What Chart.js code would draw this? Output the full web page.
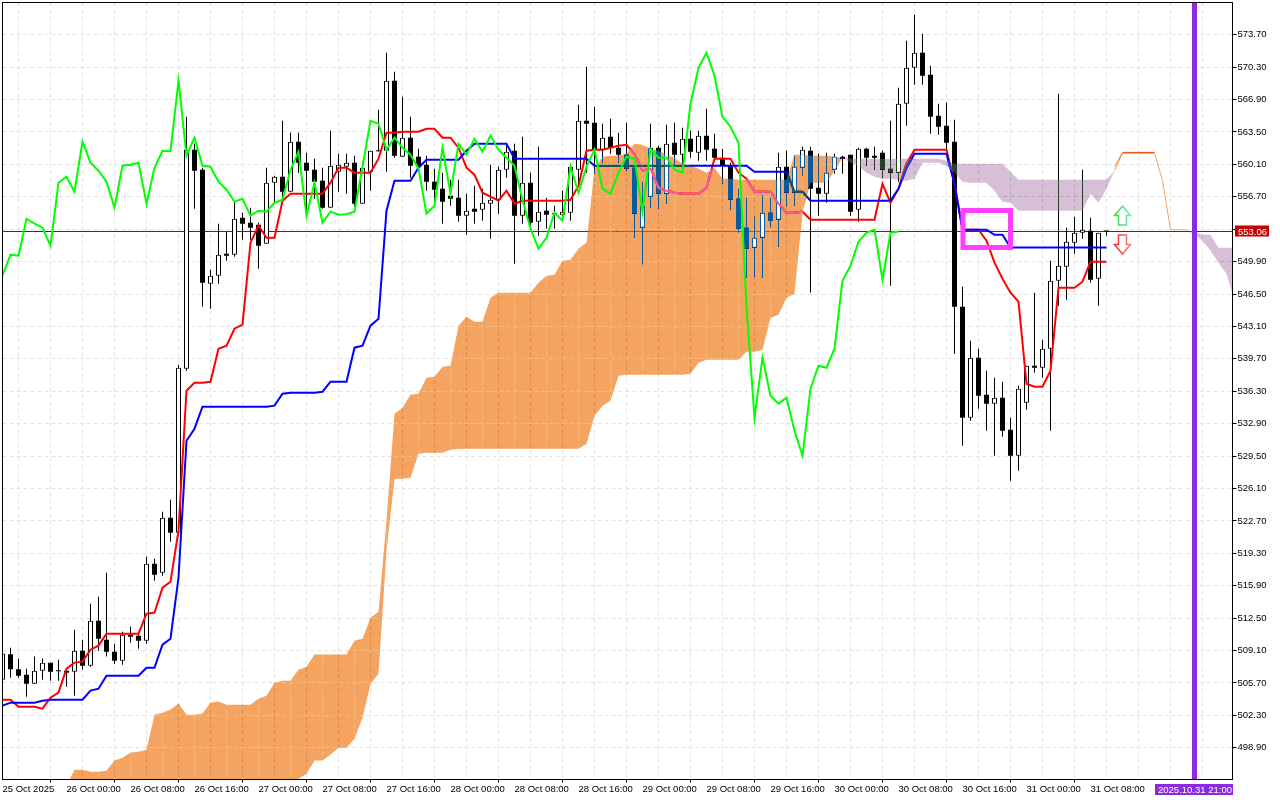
<!DOCTYPE html>
<html>
<head>
<meta charset="utf-8">
<style>html,body{margin:0;padding:0;background:#fff;overflow:hidden}canvas{display:block}</style>
<script src="https://cdn.jsdelivr.net/npm/chart.js@4/dist/chart.umd.js"></script>
</head>
<body>
<canvas id="c" width="1280" height="800" style="width:1280px;height:800px"></canvas>
<script>
const opens = [506.04,508.72,507.14,506.57,505.62,506.99,507.83,506.99,506.99,506.88,
509.08,507.51,512.23,510.24,508.98,508.04,510.76,510.66,510.13,518.21,
517.27,523.04,521.46,538.67,561.64,559.54,547.58,548.42,550.73,550.63,
554.51,553.98,553.77,551.78,558.18,558.81,557.23,562.48,560.28,559.54,
558.39,555.56,559.33,559.86,560.28,555.98,559.33,561.53,561.53,568.88,
560.91,562.90,560.91,560.07,558.28,557.55,556.81,556.60,554.72,555.45,
555.35,555.98,556.39,559.54,561.53,554.72,558.18,554.09,555.24,554.93,
554.82,555.03,559.54,564.68,564.47,561.64,563.00,561.85,561.12,559.75,
553.46,556.71,561.85,557.02,562.37,561.12,562.79,561.33,563.11,561.74,
560.80,559.96,556.50,553.46,551.36,552.41,555.03,554.30,559.86,557.13,
559.75,561.53,557.65,557.02,559.54,560.91,561.12,555.35,561.74,561.01,
561.33,559.65,559.23,566.47,570.24,571.82,569.51,565.21,564.16,562.48,
545.17,533.53,539.82,535.94,535.00,535.62,532.27,529.54,535.10,538.98,
538.77,540.76,547.90,549.37,551.88,552.93,553.14,548.11,553.09];
const closes = [508.77,507.14,506.46,505.62,506.99,507.83,506.88,506.93,506.78,509.08,
507.51,512.23,510.34,508.98,508.04,510.76,510.55,510.13,518.21,517.06,
523.04,521.46,538.77,561.64,559.44,547.69,548.42,550.63,550.52,554.40,
553.88,553.46,551.57,558.18,558.81,557.23,562.48,560.28,559.44,558.28,
555.56,559.96,560.07,560.28,555.98,559.75,561.53,561.48,568.88,561.01,
562.90,559.96,559.86,558.28,557.44,556.19,556.50,554.72,555.24,555.14,
556.08,556.39,559.54,561.43,554.72,558.18,553.98,555.14,554.82,554.87,
555.14,559.86,564.68,564.37,561.64,562.90,561.85,561.12,559.65,554.93,
555.77,561.85,557.02,562.27,561.12,562.79,561.43,563.11,561.64,560.80,
559.96,556.39,553.35,551.25,552.41,555.03,554.19,559.86,557.13,559.86,
561.64,557.55,557.02,559.23,560.91,560.70,555.14,561.74,560.80,560.80,
559.54,559.23,566.47,570.24,571.82,569.40,565.10,564.05,562.37,545.17,
533.53,539.82,535.83,535.00,535.62,532.16,529.54,536.57,538.98,538.77,
540.76,547.90,549.47,551.99,552.93,553.25,548.00,552.93,553.06];
const highs = [509.29,509.40,508.25,507.20,508.46,508.25,507.83,508.14,506.99,511.29,
510.24,514.02,514.75,517.27,509.82,511.08,511.60,510.97,518.95,518.74,
523.67,524.92,539.09,565.10,562.27,559.75,549.05,553.88,553.04,556.29,
555.03,555.56,553.98,559.75,558.91,564.68,563.42,563.42,561.33,560.70,
559.75,563.63,561.22,561.22,561.01,560.38,561.53,565.84,571.82,569.82,
567.20,565.10,561.74,561.01,559.65,559.23,558.49,558.49,557.02,557.86,
557.55,560.07,559.86,562.27,562.27,563.00,559.23,561.95,556.60,555.77,
557.34,560.17,566.36,570.35,566.15,564.37,564.89,563.42,564.47,559.75,
558.28,564.37,562.06,564.26,564.47,563.95,563.63,563.63,565.94,563.32,
561.74,560.28,557.55,556.60,554.61,556.81,556.60,561.33,561.53,561.01,
561.95,561.95,561.22,561.33,561.22,561.01,561.12,561.85,561.85,561.95,
561.53,564.68,568.14,573.07,575.80,573.81,570.45,566.47,566.57,564.79,
547.27,541.60,540.76,538.46,537.72,537.30,533.53,536.88,538.98,546.64,
541.71,550.00,567.51,553.46,554.61,559.54,554.51,552.93,553.09];
const lows = [505.73,506.25,506.25,504.26,505.62,506.04,505.94,505.94,505.31,504.36,
507.09,507.41,509.08,508.46,507.72,507.62,509.92,509.29,509.82,516.43,
516.95,520.52,521.15,538.46,555.45,545.17,544.96,547.58,550.00,550.42,
552.20,552.20,549.16,551.78,556.08,556.29,557.23,559.23,554.72,556.50,
555.45,555.56,557.23,557.02,555.66,555.98,557.34,561.43,559.33,560.80,
560.91,558.70,559.75,557.34,555.98,553.88,555.77,554.09,552.72,553.88,
554.19,552.30,554.93,558.70,549.68,553.88,553.67,552.62,553.35,553.35,
554.61,554.19,558.07,559.23,559.12,560.28,561.22,560.28,559.44,552.41,
549.58,555.56,555.45,555.98,559.96,559.44,560.80,560.49,560.49,560.70,
558.07,555.35,552.93,548.21,548.32,548.21,553.46,551.46,555.77,555.77,
558.91,546.64,554.72,556.08,559.12,559.12,554.72,554.09,559.96,559.54,
558.70,547.37,558.28,564.16,568.46,568.46,563.32,563.21,561.64,540.24,
530.59,533.21,534.47,532.16,529.54,531.53,526.92,527.97,534.37,538.25,
537.72,532.16,545.28,545.90,550.73,552.30,547.69,545.28,552.62];

const kijun = [503.32,503.63,503.63,503.63,503.63,503.84,503.94,503.94,503.94,503.94,
503.94,504.89,505.10,506.46,506.46,506.46,506.46,506.46,507.30,507.30,
509.71,510.34,516.74,531.11,532.37,534.68,534.68,534.68,534.68,534.68,
534.68,534.68,534.68,534.68,534.79,536.04,536.15,536.15,536.15,536.15,
536.25,537.30,537.30,537.30,540.87,541.08,543.18,543.91,555.24,558.39,
558.39,558.39,559.75,560.59,560.59,560.59,560.59,560.59,561.53,562.27,
562.27,562.27,562.27,562.27,560.70,560.70,560.70,560.70,560.70,560.70,
560.70,560.70,560.70,560.70,559.96,559.96,559.96,559.96,559.96,559.96,
559.96,559.96,559.96,559.96,559.96,559.96,559.96,559.96,559.96,559.96,
559.96,559.96,559.96,559.96,559.33,559.33,559.33,559.33,559.33,557.23,
557.23,556.29,556.29,556.29,556.29,556.29,556.29,556.29,556.29,556.29,
556.29,556.29,557.55,559.75,561.22,561.22,561.22,561.22,561.22,558.07,
553.25,553.25,553.25,553.25,552.72,552.72,551.39,551.39,551.39,551.39,
551.39,551.39,551.39,551.39,551.39,551.39,551.39,551.39,551.39];
const tenkan = [503.94,503.94,503.21,503.21,503.21,503.00,504.15,504.68,507.20,507.83,
507.93,509.19,509.61,510.87,510.87,510.87,510.87,510.87,512.97,513.07,
515.69,516.32,521.67,536.36,537.20,537.20,537.30,540.76,541.08,542.86,
543.28,551.88,553.67,552.41,552.41,556.29,557.02,557.02,557.02,557.02,
557.02,558.18,559.75,559.75,559.23,559.23,559.23,560.70,563.42,563.42,
563.53,563.53,563.53,563.84,563.84,562.90,562.90,561.85,559.75,559.02,
557.13,556.71,556.29,557.34,555.98,556.29,556.29,556.29,556.29,556.29,
556.29,556.39,557.86,561.53,561.64,561.64,561.85,562.06,562.16,561.22,
559.44,559.65,557.65,557.34,557.13,557.02,557.02,557.02,557.65,560.70,
560.70,560.70,559.23,558.60,557.23,557.23,557.23,555.98,555.03,555.03,
555.14,554.30,554.30,554.30,554.30,554.30,554.30,554.30,554.30,554.30,
558.07,556.08,557.55,560.17,561.64,561.64,561.64,561.64,561.64,558.07,
553.25,553.25,553.25,552.09,549.79,548.11,546.64,545.70,537.09,536.78,
536.78,538.46,547.16,547.16,547.16,547.79,549.89,549.89,549.89];
const chikou = [548.42,550.63,550.52,554.40,553.88,553.46,551.57,558.18,558.81,557.23,
562.48,560.28,559.44,558.28,555.56,559.96,560.07,560.28,555.98,559.75,
561.53,561.48,568.88,561.01,562.90,559.96,559.86,558.28,557.44,556.19,
556.50,554.72,555.24,555.14,556.08,556.39,559.54,561.43,554.72,558.18,
553.98,555.14,554.82,554.87,555.14,559.86,564.68,564.37,561.64,562.90,
561.85,561.12,559.65,554.93,555.77,561.85,557.02,562.27,561.12,562.79,
561.43,563.11,561.64,560.80,559.96,556.39,553.35,551.25,552.41,555.03,
554.19,559.86,557.13,559.86,561.64,557.55,557.02,559.23,560.91,560.70,
555.14,561.74,560.80,560.80,559.54,559.23,566.47,570.24,571.82,569.40,
565.10,564.05,562.37,545.17,533.53,539.82,535.83,535.00,535.62,532.16,
529.54,536.57,538.98,538.77,540.76,547.90,549.47,551.99,552.93,553.25,
548.00,552.93,553.06];

// Ichimoku cloud, first stretch starts at bar 8
const orangeUpper = [494.92,496.60,496.60,496.39,496.39,496.50,497.55,497.86,498.39,498.49,
498.70,502.37,502.58,502.90,503.53,502.37,502.37,502.48,503.63,503.74,
503.42,503.42,503.42,503.42,504.05,504.36,505.73,505.94,505.94,507.09,
507.41,508.67,508.67,508.67,508.67,508.67,510.13,510.34,512.55,513.18,
522.72,533.95,534.58,535.94,536.04,537.72,537.83,538.88,538.98,543.18,
544.12,543.60,543.60,546.11,546.64,546.64,546.64,546.64,546.64,547.69,
548.42,548.53,550.00,550.10,551.25,551.88,559.65,560.91,561.01,561.01,
561.22,562.27,562.16,561.74,561.53,561.12,560.80,560.17,559.96,559.65,
559.23,559.75,558.60,558.60,558.49,558.49,558.49,558.49,558.49,558.49,
558.49,561.12,561.12,561.01,561.01,561.01,560.91,560.80];
const orangeLower = [493,493,493,493,493,493,493,493,493,493,
493,493,493,493,493,493,493,493,493,493,
493,493,493,493,493,493,493,493,493,495.66,
496.18,497.55,497.55,498.18,498.91,498.91,499.85,502.06,505.62,506.67,
519.57,527.13,527.13,527.23,529.75,529.86,529.86,529.86,530.17,530.27,
530.27,530.27,530.27,530.27,530.27,530.27,530.27,530.27,530.27,530.27,
530.27,530.27,530.27,530.27,530.27,530.80,533.74,534.79,535.31,537.93,
538.04,538.04,538.04,538.04,538.04,538.04,538.04,538.04,538.14,539.30,
539.61,539.61,539.61,539.61,539.61,540.45,540.45,540.66,544.02,544.33,
546.11,546.53,555.03,558.18,558.18,558.18,559.44,560.80];
// short forward stretch, starts at bar 139
const orangeUpper2 = [559.96,561.43,561.43,561.43,561.43,561.43];
const orangeLower2 = [559.75,561.22,561.22,561.22,561.22,561.22];
const forwardSpan = [559.44,561.33,561.33,561.33,561.33,561.33,558.39,553.25,553.25,553.25];
// thistle stretch, starts at bar 105
const purpleUpper = [560.80,560.70,560.70,560.70,560.70,560.70,560.70,560.70,560.70,560.70,
560.70,560.70,560.70,560.49,560.17,560.17,560.17,560.17,560.17,560.17,
560.17,559.33,558.49,558.49,558.49,558.49,558.49,558.49,558.49,558.49,
558.49,558.49,558.49,558.49,559.44];
const purpleLower = [560.80,560.28,559.96,559.23,558.81,558.60,558.60,558.49,558.39,558.60,
560.28,560.28,560.28,559.96,559.23,558.28,558.18,558.18,558.18,557.34,
556.19,556.08,555.24,555.24,555.24,555.24,555.24,555.24,555.24,555.24,
555.24,557.02,556.08,557.55,559.44];
// starts at bar 148
const purpleUpper2 = [553.25,553.04,552.72,552.72,551.36,551.36,551.36];
const purpleLower2 = [553.25,552.72,552.09,551.04,549.79,548.63,545.80];

const yTicks = [498.90,502.30,505.70,509.10,512.50,515.90,519.30,522.70,526.10,529.50,532.90,536.30,539.70,543.10,546.50,549.90,553.30,556.70,560.10,563.50,566.90,570.30,573.70];
const timeTicks = {0:"25 Oct 2025",8:"26 Oct 00:00",16:"26 Oct 08:00",24:"26 Oct 16:00",32:"27 Oct 00:00",40:"27 Oct 08:00",48:"27 Oct 16:00",56:"28 Oct 00:00",64:"28 Oct 08:00",72:"28 Oct 16:00",80:"29 Oct 00:00",88:"29 Oct 08:00",96:"29 Oct 16:00",104:"30 Oct 00:00",112:"30 Oct 08:00",120:"30 Oct 16:00",128:"31 Oct 00:00",136:"31 Oct 08:00"};
const gridBars = [0,4,8,12,16,20,24,28,32,36,40,44,48,52,56,60,64,68,72,76,80,84,88,92,96,100,104,108,112,116,120,124,128,132,136,140,144,148,152];
const lastPrice = 553.06;
const lastPriceText = "553.06";
const endBar = 149;
const endBarText = "2025.10.31 21:00";
const boxBars = [120.06, 126];
const boxPrices = [555.26, 551.38];
const arrowBar = 140;
const upArrow = [553.74, 555.73];      // tail, tip
const downArrow = [552.69, 550.70];    // tail, tip

const FONT = '"Liberation Sans"';
const ORANGE_DIFF = 'rgb(11,91,159)';   // white minus #F4A460
const PURPLE_DIFF = 'rgb(39,64,39)';    // white minus #D8BFD8
const seq = (arr, start=0) => arr.map((v,i)=>({x:i+start,y:v}));
const range = (a,b)=>({y:[Math.min(a,b),Math.max(a,b)]});

const wicks = lows.map((l,i)=>({x:i,...range(l,highs[i])}));
const upBodies=[], downBodies=[];
opens.forEach((o,i)=>{(closes[i]>=o?upBodies:downBodies).push({x:i,...range(o,closes[i])});});

const lineDs = (label,data,color,order,width=2)=>({type:'line',label,data,borderColor:color,backgroundColor:color,borderWidth:width,pointRadius:0,tension:0,fill:false,order});
const cloudDs = (label,data,group)=>({type:'line',label,data,showLine:false,pointRadius:0,borderWidth:0,order:30,cloud:group});

function polygon(ctx,chart,up,lo){
  const xs=chart.scales.x, ys=chart.scales.y;
  up.forEach((p,i)=>{const X=xs.getPixelForValue(p.x),Y=ys.getPixelForValue(p.y); i?ctx.lineTo(X,Y):ctx.moveTo(X,Y);});
  for(let i=lo.length-1;i>=0;i--) ctx.lineTo(xs.getPixelForValue(lo[i].x),ys.getPixelForValue(lo[i].y));
  ctx.closePath();
}
function cloudPairs(chart,group){
  const ds=chart.data.datasets.filter(d=>d.cloud===group);
  const out=[];
  for(let i=0;i<ds.length;i+=2) out.push([ds[i].data,ds[i+1].data]);
  return out;
}
const metaOf=(chart,label)=>chart.getDatasetMeta(chart.data.datasets.findIndex(d=>d.label===label));
const cloudPlugin={
  id:'cloudPlugin',
  beforeDraw(chart){
    const ctx=chart.ctx;
    ctx.save();ctx.globalCompositeOperation='source-over';ctx.fillStyle='#fff';ctx.fillRect(0,0,chart.width,chart.height);ctx.restore();
  },
  beforeDatasetDraw(chart,args){
    if(args.meta.label!=='Chikou') return;
    const ctx=chart.ctx, a=chart.chartArea, xs=chart.scales.x, ys=chart.scales.y;
    const area=()=>{ctx.beginPath();ctx.rect(a.left,a.top,a.right-a.left,a.bottom-a.top);ctx.clip();};
    const inCloud=(groups)=>{ctx.beginPath();groups.forEach(g=>cloudPairs(chart,g).forEach(([u,l])=>polygon(ctx,chart,u,l)));ctx.clip();};
    const tickXs=xs.ticks.map(t=>Math.round(xs.getPixelForValue(t.value)-.5)+.5);
    const tickYs=ys.ticks.map(t=>Math.round(ys.getPixelForValue(t.value)-.5)+.5);

    ctx.save();area();
    ctx.globalCompositeOperation='difference';
    ctx.fillStyle=ORANGE_DIFF;
    cloudPairs(chart,'orange').forEach(([u,l])=>{ctx.beginPath();polygon(ctx,chart,u,l);ctx.fill();});
    ctx.fillStyle=PURPLE_DIFF;
    cloudPairs(chart,'purple').forEach(([u,l])=>{ctx.beginPath();polygon(ctx,chart,u,l);ctx.fill();});
    ctx.restore();

    // pale grid inside the orange cloud
    ctx.save();area();inCloud(['orange']);
    ctx.globalCompositeOperation='lighten';
    ctx.lineWidth=1;
    const gridPass=()=>{
      tickXs.forEach(X=>{ctx.beginPath();ctx.moveTo(X,a.top);ctx.lineTo(X,a.bottom);ctx.stroke();});
      tickYs.forEach(Y=>{ctx.beginPath();ctx.moveTo(a.left,Y);ctx.lineTo(a.right,Y);ctx.stroke();});
    };
    ctx.strokeStyle='#F4A460';gridPass();
    ctx.strokeStyle='#EDBD79';ctx.setLineDash([4,3]);gridPass();
    ctx.restore();

    // candles sit above that grid: repaint the few cells it touched
    ctx.save();area();inCloud(['orange']);
    ctx.fillStyle='#0B5B9F';
    ['Wicks','DownBodies','UpBodies'].forEach(name=>{
      metaOf(chart,name).data.forEach(b=>{
        const top=Math.min(b.y,b.base),bot=Math.max(b.y,b.base),left=b.x-b.width/2;
        if(tickXs.some(X=>Math.abs(X-b.x)<1)) ctx.fillRect(left,top,b.width,bot-top);
        tickYs.forEach(Y=>{if(Y>=top&&Y<=bot) ctx.fillRect(left,Y-.5,b.width,1);});
      });
    });
    ctx.restore();

    // white candle interiors stay white inside the clouds
    ctx.save();area();inCloud(['orange','purple']);
    ctx.fillStyle='#fff';
    metaOf(chart,'UpBodies').data.forEach(b=>{
      const top=Math.min(b.y,b.base)+1,bot=Math.max(b.y,b.base)-1;
      if(bot>top) ctx.fillRect(b.x-b.width/2+1,top,b.width-2,bot-top);
    });
    ctx.restore();

    // indicator lines show their inverted colours where they cross a cloud
    const reline=(values,color)=>{
      ctx.strokeStyle=color;ctx.lineWidth=2.2;ctx.beginPath();
      values.forEach((v,i)=>{const X=xs.getPixelForValue(i),Y=ys.getPixelForValue(v);i?ctx.lineTo(X,Y):ctx.moveTo(X,Y);});
      ctx.stroke();
    };
    ctx.save();area();inCloud(['orange']);reline(tenkan,'#F45B9F');reline(kijun,'#0B5B60');ctx.restore();
    ctx.save();area();inCloud(['purple']);reline(tenkan,'#D84027');reline(kijun,'#2740D8');ctx.restore();
  },
  afterDraw(chart){
    const ctx=chart.ctx,a=chart.chartArea,xs=chart.scales.x,ys=chart.scales.y;
    ctx.save();
    // frame
    ctx.strokeStyle='#000';ctx.lineWidth=1;ctx.setLineDash([]);
    ctx.strokeRect(a.left,a.top,a.right-a.left,a.bottom-a.top);
    // highlight box
    ctx.strokeStyle='#FF40FF';ctx.lineWidth=5;
    const bx0=xs.getPixelForValue(boxBars[0]),bx1=xs.getPixelForValue(boxBars[1]),by0=ys.getPixelForValue(boxPrices[0]),by1=ys.getPixelForValue(boxPrices[1]);
    ctx.strokeRect(bx0,by0,bx1-bx0,by1-by0);
    // arrows
    const arrow=(tail,tip,c1,c2)=>{
      const X=xs.getPixelForValue(arrowBar),Yt=ys.getPixelForValue(tip),Yb=ys.getPixelForValue(tail),dir=Yb>Yt?1:-1;
      const h=Yt+dir*9.5;
      ctx.beginPath();
      ctx.moveTo(X,Yt);ctx.lineTo(X+8,h);ctx.lineTo(X+4,h);ctx.lineTo(X+4,Yb);ctx.lineTo(X-4,Yb);ctx.lineTo(X-4,h);ctx.lineTo(X-8,h);ctx.closePath();
      const g=ctx.createLinearGradient(X-8,0,X+8,0);g.addColorStop(0,c1);g.addColorStop(1,c2);
      ctx.fillStyle='#fff';ctx.fill();
      ctx.strokeStyle=g;ctx.lineWidth=1.5;ctx.stroke();
    };
    arrow(upArrow[0],upArrow[1],'#30E030','#70E8C0');
    arrow(downArrow[0],downArrow[1],'#FF2020','#FF8080');
    // last price tag
    const py=ys.getPixelForValue(lastPrice);
    ctx.fillStyle='#C80000';ctx.fillRect(1235,Math.round(py)-5.5,34,11);
    ctx.fillStyle='#fff';ctx.font='9.5px '+FONT;ctx.textBaseline='middle';ctx.textAlign='left';
    ctx.fillText(lastPriceText,1238,py+0.5);
    // end time tag
    ctx.fillStyle='#8A2BE2';ctx.fillRect(1155,784,78,11);
    ctx.fillStyle='#fff';ctx.fillText(endBarText,1158,790);
    ctx.restore();
  }
};

new Chart(document.getElementById('c'),{
  data:{datasets:[
    {type:'bar',label:'EndLine',data:[{x:endBar,y:[495,578]}],backgroundColor:'#8A2BE2',barThickness:5,grouped:false,inflateAmount:0,order:1},
    lineDs('Chikou',seq(chikou),'#00FF00',2),
    lineDs('ForwardSpan',seq(forwardSpan,139),'#F4A460',3,1),
    lineDs('Kijun',seq(kijun),'#0000FF',4),
    lineDs('Tenkan',seq(tenkan),'#FF0000',5),
    {type:'bar',label:'UpBodies',data:upBodies,backgroundColor:'#fff',borderColor:'#000',borderWidth:1,borderSkipped:false,barThickness:5,grouped:false,inflateAmount:0,minBarLength:3,order:6},
    {type:'bar',label:'DownBodies',data:downBodies,backgroundColor:'#000',barThickness:5,grouped:false,inflateAmount:0,minBarLength:1,order:7},
    {type:'bar',label:'Wicks',data:wicks,backgroundColor:'#000',barThickness:1,grouped:false,inflateAmount:0,order:8},
    lineDs('LastPrice',[{x:0,y:lastPrice},{x:153.75,y:lastPrice}],'#A00000',9,1),
    cloudDs('OrangeUpper',seq(orangeUpper,8),'orange'),
    cloudDs('OrangeLower',seq(orangeLower,8),'orange'),
    cloudDs('OrangeUpper2',seq(orangeUpper2,139),'orange'),
    cloudDs('OrangeLower2',seq(orangeLower2,139),'orange'),
    cloudDs('PurpleUpper',seq(purpleUpper,105),'purple'),
    cloudDs('PurpleLower',seq(purpleLower,105),'purple'),
    cloudDs('PurpleUpper2',seq(purpleUpper2,148),'purple'),
    cloudDs('PurpleLower2',seq(purpleLower2,148),'purple')
  ]},
  options:{
    responsive:false,animation:false,devicePixelRatio:1,events:[],
    layout:{padding:{left:2.5,top:2.5,right:0,bottom:0}},
    plugins:{legend:{display:false},tooltip:{enabled:false}},
    scales:{
      x:{type:'linear',position:'bottom',min:0,max:153.75,offset:false,
        afterBuildTicks(s){s.ticks=gridBars.map(v=>({value:v}));},
        afterFit(s){s.height=20.5;s.paddingLeft=0;s.paddingRight=0;s.paddingTop=0;s.paddingBottom=0;},
        grid:{color:'#E2E2E2',lineWidth:1,tickLength:3,drawTicks:true,
          tickColor:c=>timeTicks[c.tick&&c.tick.value]&&c.tick.value>0?'#000':'rgba(0,0,0,0)'},
        border:{display:true,color:'#000',dash:[4,3]},
        ticks:{autoSkip:false,maxRotation:0,minRotation:0,align:'start',padding:1,color:'#000',font:{family:FONT,size:9.5},
          callback:v=>timeTicks[v]||''}
      },
      y:{type:'linear',position:'right',min:495.569,max:577.084,
        afterBuildTicks(s){s.ticks=yTicks.map(v=>({value:v}));},
        afterFit(s){s.width=47.5;s.paddingTop=0;s.paddingBottom=0;s.paddingLeft=0;s.paddingRight=0;},
        grid:{color:'#E2E2E2',lineWidth:1,tickLength:4,tickColor:'#000'},
        border:{display:true,color:'#000',dash:[4,3]},
        ticks:{autoSkip:false,padding:1,color:'#000',font:{family:FONT,size:9.5},callback:v=>Number(v).toFixed(2)}
      }
    }
  },
  plugins:[cloudPlugin]
});
</script>
</body>
</html>
